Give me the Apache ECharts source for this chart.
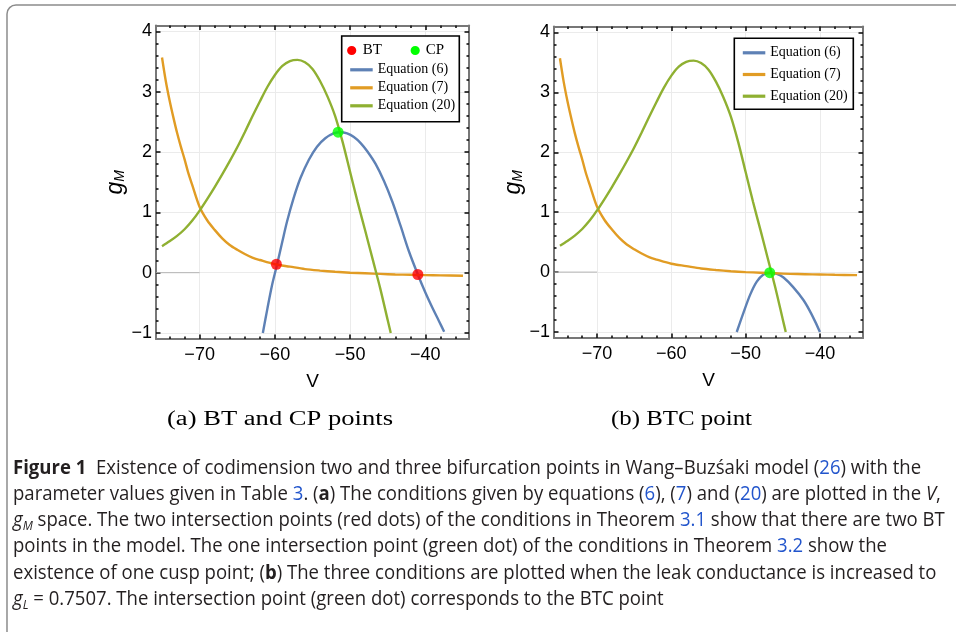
<!DOCTYPE html>
<html><head><meta charset="utf-8">
<script src="https://cdn.jsdelivr.net/npm/echarts@6/dist/echarts.min.js"></script>
<style>html,body{margin:0;padding:0;background:#fff}#c{width:956px;height:632px}</style>
</head><body><div id="c"></div>
<script>
// ---------- data ----------
const eq7V  = [-75, -74.5, -74, -73.5, -73, -72.5, -72, -71.5, -71, -70, -69, -68, -67, -66, -65, -64, -63, -62, -60, -58, -56, -54, -52, -50, -48, -46, -44, -42, -40, -38, -35];
const eq7G  = [3.57, 3.18, 2.86, 2.58, 2.32, 2.09, 1.88, 1.65, 1.46, 1.09, 0.87, 0.71, 0.57, 0.46, 0.38, 0.31, 0.25, 0.21, 0.14, 0.10, 0.06, 0.035, 0.015, 0.0, -0.01, -0.02, -0.03, -0.035, -0.04, -0.045, -0.05];
const eq20V = [-75, -74, -73, -72, -71, -70, -69, -68, -67, -66, -65, -64, -63, -62, -61, -60, -59, -58, -57, -56, -55, -54, -53, -52, -51, -50, -49, -48, -47, -46, -45, -44.6];
const eq20G = [0.44, 0.52, 0.61, 0.72, 0.86, 1.03, 1.22, 1.42, 1.63, 1.85, 2.08, 2.33, 2.59, 2.84, 3.08, 3.28, 3.43, 3.51, 3.53, 3.49, 3.38, 3.18, 2.92, 2.60, 2.17, 1.67, 1.17, 0.70, 0.22, -0.26, -0.79, -1.0];
const eq6aV = [-61.6, -61, -60.4, -59.7, -59, -58.4, -57.5, -56.6, -55.5, -54.4, -53.3, -52.2, -51.3, -50.4, -49.5, -48.6, -47.7, -46.6, -45.5, -44.4, -43.3, -42.2, -41, -40, -39, -38.2, -37.5];
const eq6aG = [-1.0, -0.6, -0.22, 0.14, 0.52, 0.84, 1.24, 1.57, 1.87, 2.09, 2.23, 2.31, 2.33, 2.31, 2.25, 2.15, 2.01, 1.80, 1.52, 1.18, 0.78, 0.36, -0.03, -0.33, -0.6, -0.8, -0.98];
const eq6bV = [-51.2, -50.3, -49.4, -48.5, -47.6, -46.7, -45.8, -44.9, -43.6, -42.2, -41.1, -40.0];
const eq6bG = [-1.0, -0.68, -0.38, -0.16, -0.04, -0.01, -0.03, -0.09, -0.25, -0.47, -0.71, -1.0];
const btV = [-59.8, -41.0];
const btG = [0.14, -0.03];
const cpV = [-51.6];
const cpG = [2.33];
const btcV = [-46.75];
const btcG = [-0.01];
const xMajorTicks = [-70, -60, -50, -40];
const xMinorTicks = [-74, -72, -68, -66, -64, -62, -58, -56, -54, -52, -48, -46, -44, -42, -38, -36];
const yMajorTicks = [-1, 0, 1, 2, 3, 4];
const yMinorTicks = [-0.8, -0.6, -0.4, -0.2, 0.2, 0.4, 0.6, 0.8, 1.2, 1.4, 1.6, 1.8, 2.2, 2.4, 2.6, 2.8, 3.2, 3.4, 3.6, 3.8];
const seriesNames = ['Equation (6)', 'Equation (7)', 'Equation (20)'];
const pointNames = ['BT', 'CP'];
const subTitles = ['(a) BT and CP points', '(b) BTC point'];
const captionLines = [
  '{b|Figure 1}  Existence of codimension two and three bifurcation points in Wang\u2013Buz\u015baki model ({l|26}) with the',
  'parameter values given in Table {l|3}. ({b|a}) The conditions given by equations ({l|6}), ({l|7}) and ({l|20}) are plotted in the {i|V},',
  '{i|g}{s|M} space. The two intersection points (red dots) of the conditions in Theorem {l|3.1} show that there are two BT',
  'points in the model. The one intersection point (green dot) of the conditions in Theorem {l|3.2} show the',
  'existence of one cusp point; ({b|b}) The three conditions are plotted when the leak conductance is increased to',
  '{i|g}{s|L} = 0.7507. The intersection point (green dot) corresponds to the BTC point'
];

// ---------- style ----------
const C6 = '#5E81B5', C7 = '#E19C24', C20 = '#8FB032', CRED = '#FF0000', CGRN = '#00FF00';
const FRAME = '#777777';
const SANS = 'Liberation Sans';
const SERIF = 'Liberation Serif';
const vMin = -75.8, vMax = -34.2, gMin = -1.1, gMax = 4.1;
const zip = (a, b) => a.map((v, i) => [v, b[i]]);
const minus = v => (v < 0 ? '\u2212' : '') + Math.abs(v);

const grids = [
  {left: 156, top: 25.5, width: 313, height: 313.5},
  {left: 554, top: 26.5, width: 309, height: 311.5}
];

const xAxes = [], yAxes = [], series = [];
grids.forEach((g, gi) => {
  const base = gi * 4;
  const xCommon = {gridIndex: gi, type: 'value', min: vMin, max: vMax, splitNumber: 5};
  const yCommon = {gridIndex: gi, type: 'value', min: gMin, max: gMax, splitNumber: 5};
  const line = {show: true, onZero: false, lineStyle: {color: FRAME, width: 2}};
  const noLine = {show: false, onZero: false};
  const majT = vals => ({show: true, inside: true, length: 4.5, customValues: vals, lineStyle: {color: '#111', width: 1.6}});
  const minT = vals => ({show: true, inside: true, length: 2.5, customValues: vals, lineStyle: {color: '#111', width: 1.6}});
  xAxes.push(Object.assign({}, xCommon, {
    position: 'bottom', axisLine: line, axisTick: majT(xMajorTicks),
    axisLabel: {customValues: xMajorTicks, formatter: minus, fontFamily: SANS, fontSize: 18, color: '#000', margin: 7},
    splitLine: {show: true, lineStyle: {color: '#ebebeb', width: 1}},
    name: 'V', nameLocation: 'middle', nameGap: 33,
    nameTextStyle: {fontFamily: SANS, fontSize: 19, color: '#000'}
  }));
  xAxes.push(Object.assign({}, xCommon, {position: 'top', axisLine: line, axisTick: majT(xMajorTicks), axisLabel: {show: false}, splitLine: {show: false}}));
  xAxes.push(Object.assign({}, xCommon, {position: 'bottom', axisLine: noLine, axisTick: minT(xMinorTicks), axisLabel: {show: false}, splitLine: {show: false}}));
  xAxes.push(Object.assign({}, xCommon, {position: 'top', axisLine: noLine, axisTick: minT(xMinorTicks), axisLabel: {show: false}, splitLine: {show: false}}));
  yAxes.push(Object.assign({}, yCommon, {
    position: 'left', axisLine: line, axisTick: majT(yMajorTicks),
    axisLabel: {customValues: yMajorTicks, formatter: minus, fontFamily: SANS, fontSize: 18, color: '#000', margin: 4},
    splitLine: {show: true, lineStyle: {color: '#ebebeb', width: 1}},
    name: '{g|g}{s|M}', nameLocation: 'middle', nameGap: 29, nameRotate: 90,
    nameTextStyle: {fontFamily: SANS, fontSize: 22, color: '#000', fontStyle: 'italic',
      rich: {g: {fontFamily: SANS, fontSize: 23, fontStyle: 'italic', color: '#000'},
             s: {fontFamily: SANS, fontSize: 14, fontStyle: 'italic', color: '#000', verticalAlign: 'bottom'}}}
  }));
  yAxes.push(Object.assign({}, yCommon, {position: 'right', axisLine: line, axisTick: majT(yMajorTicks), axisLabel: {show: false}, splitLine: {show: false}}));
  yAxes.push(Object.assign({}, yCommon, {position: 'left', axisLine: noLine, axisTick: minT(yMinorTicks), axisLabel: {show: false}, splitLine: {show: false}}));
  yAxes.push(Object.assign({}, yCommon, {position: 'right', axisLine: noLine, axisTick: minT(yMinorTicks), axisLabel: {show: false}, splitLine: {show: false}}));

  const lineS = (name, data, color) => ({
    name, type: 'line', xAxisIndex: base, yAxisIndex: base, data, smooth: 0.3,
    showSymbol: false, symbol: 'none', lineStyle: {color, width: 2.4}, itemStyle: {color}, silent: true, z: 3
  });
  series.push({type: 'line', xAxisIndex: base, yAxisIndex: base, data: [[vMin, 0], [xMajorTicks[0], 0]], symbol: 'none',
    lineStyle: {color: '#b5b5b5', width: 1}, silent: true, z: 2});
  series.push(lineS(seriesNames[0], zip(gi === 0 ? eq6aV : eq6bV, gi === 0 ? eq6aG : eq6bG), C6));
  series.push(lineS(seriesNames[1], zip(eq7V, eq7G), C7));
  series.push(lineS(seriesNames[2], zip(eq20V, eq20G), C20));
  if (gi === 0) {
    series.push({name: pointNames[0], type: 'scatter', xAxisIndex: base, yAxisIndex: base, data: zip(btV, btG), symbolSize: 11, itemStyle: {color: CRED}, z: 5, silent: true});
    series.push({name: pointNames[1], type: 'scatter', xAxisIndex: base, yAxisIndex: base, data: zip(cpV, cpG), symbolSize: 11, itemStyle: {color: CGRN}, z: 5, silent: true});
  } else {
    series.push({name: 'BTC', type: 'scatter', xAxisIndex: base, yAxisIndex: base, data: zip(btcV, btcG), symbolSize: 11, itemStyle: {color: CGRN}, z: 5, silent: true});
  }
});

// ---------- graphic: legends, subtitles, caption, border ----------
const graphic = [];
graphic.push({type: 'rect', shape: {x: 7, y: 5, width: 1000, height: 700, r: 9}, style: {fill: 'none', stroke: '#8c8c8c', lineWidth: 1.5}, z: 1});

function legendBox(x0, y0, w, h, rows, withPoints) {
  graphic.push({type: 'rect', shape: {x: x0, y: y0, width: w, height: h}, style: {fill: '#fff', stroke: '#000', lineWidth: 1.6}, z: 10});
  let y = y0 + 14.5;
  if (withPoints) {
    graphic.push({type: 'circle', shape: {cx: x0 + 10, cy: y, r: 4.6}, style: {fill: CRED}, z: 11});
    graphic.push({type: 'text', x: x0 + 21, y: y, style: {text: pointNames[0], fontFamily: SERIF, fontSize: 15, fill: '#000', verticalAlign: 'middle'}, z: 11});
    graphic.push({type: 'circle', shape: {cx: x0 + 73.5, cy: y, r: 4.6}, style: {fill: CGRN}, z: 11});
    graphic.push({type: 'text', x: x0 + 84, y: y, style: {text: pointNames[1], fontFamily: SERIF, fontSize: 15, fill: '#000', verticalAlign: 'middle'}, z: 11});
    y += 19.3;
  }
  const cols = [C6, C7, C20];
  rows.forEach((t, i) => {
    graphic.push({type: 'line', shape: {x1: x0 + 8.5, y1: y, x2: x0 + 31, y2: y}, style: {stroke: cols[i], lineWidth: 3.2}, z: 11});
    graphic.push({type: 'text', x: x0 + 36, y: y, style: {text: t, fontFamily: SERIF, fontSize: 14, fill: '#000', verticalAlign: 'middle'}, z: 11});
    y += withPoints ? 18 : 21.7;
  });
}
legendBox(341.7, 36, 117.6, 85.7, seriesNames, true);
legendBox(734.3, 38.3, 119, 71, seriesNames, false);

const mctx = document.createElement('canvas').getContext('2d');
function fitScale(text, font, target) { mctx.font = font; return target / mctx.measureText(text).width; }

const stFont = '20px "' + SERIF + '"';
[[subTitles[0], 167, 226], [subTitles[1], 611, 141]].forEach(([t, x, w]) => {
  graphic.push({type: 'text', x: x, y: 420, scaleX: fitScale(t, stFont, w), style: {text: t, fontFamily: SERIF, fontSize: 20, fill: '#000', verticalAlign: 'middle'}});
});

const CAP = 'Open Sans';
const CS = 20;
const capFont = CS + 'px "' + CAP + '"';
const plain5 = captionLines[4].replace(/\{\w\|([^}]*)\}/g, '$1');
const capScale = fitScale(plain5, capFont, 923);
const capY = [468, 494, 520, 546.5, 573, 599];
const rich = {
  b: {fontFamily: CAP, fontSize: CS, fontWeight: 'bold', fill: '#231f20', lineHeight: 26},
  l: {fontFamily: CAP, fontSize: CS, fill: '#2255cc', lineHeight: 26},
  i: {fontFamily: CAP, fontSize: CS, fontStyle: 'italic', fill: '#231f20', lineHeight: 26},
  s: {fontFamily: CAP, fontSize: 13, fontStyle: 'italic', fill: '#231f20', lineHeight: 26, verticalAlign: 'bottom'}
};
captionLines.forEach((t, i) => {
  graphic.push({type: 'text', x: 13, y: capY[i], scaleX: capScale,
    style: {text: t, fontFamily: CAP, fontSize: CS, fill: '#231f20', lineHeight: 26, verticalAlign: 'middle', rich: rich}});
});

const chart = echarts.init(document.getElementById('c'), null, {renderer: 'canvas'});
chart.setOption({
  animation: false,
  backgroundColor: '#fff',
  grid: grids.map(g => Object.assign({show: false, containLabel: false}, g)),
  xAxis: xAxes, yAxis: yAxes, series: series, graphic: graphic
});
</script>
</body></html>
